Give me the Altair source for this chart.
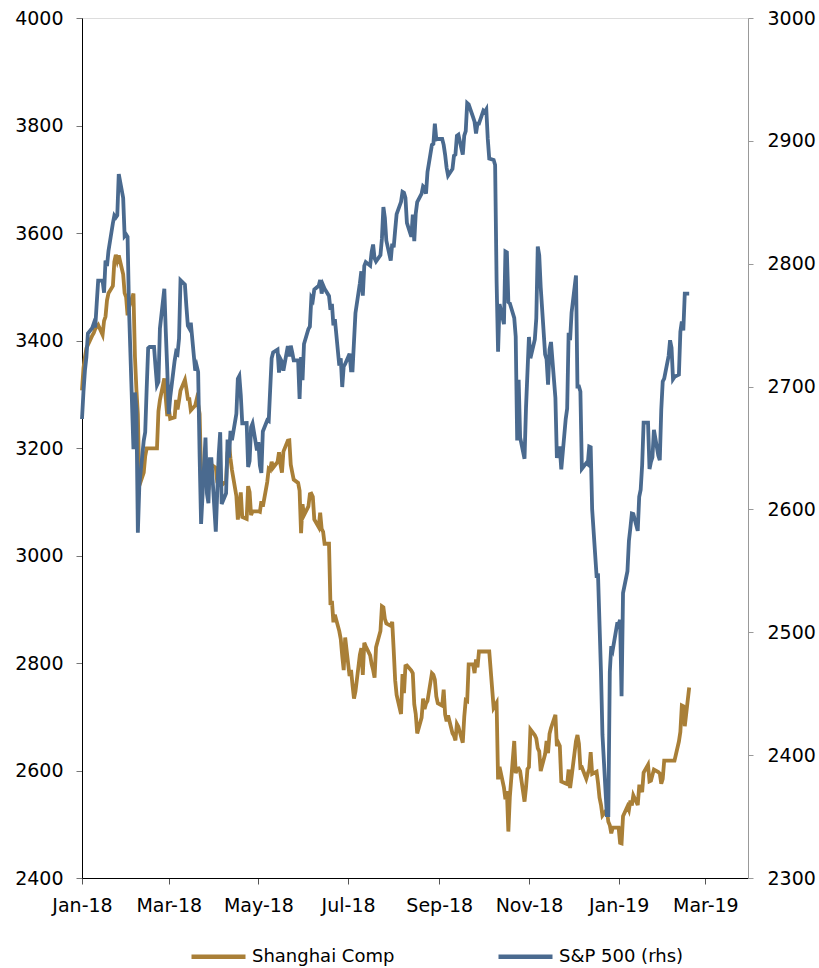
import altair as alt
import pandas as pd

FONT = "DejaVu Sans"
GOLD = "#A97F37"
BLUE = "#4A6A8F"
SH_NAME = "Shanghai Comp"
SP_NAME = "S&P 500 (rhs)"

# first value = last close of 2017 (2017-12-29), then every trading day
sp_values = [
    2673.61,
    2695.81, 2713.06, 2723.99, 2743.15, 2747.71, 2751.29, 2748.23, 2767.56, 2786.24, 2776.42, 2802.56,
    2798.03, 2810.30, 2832.97, 2839.13, 2837.54, 2839.25, 2872.87, 2853.53, 2822.43, 2823.81,
    2821.98, 2762.13, 2648.94, 2695.14, 2681.66, 2581.00, 2619.55, 2656.00, 2662.94, 2698.63,
    2731.20, 2732.22, 2716.26, 2701.33, 2703.96, 2747.30, 2779.60, 2744.28, 2713.83,
    2677.67, 2691.25, 2720.94, 2728.12, 2726.80, 2738.97, 2786.57, 2783.02, 2765.31, 2749.48,
    2747.33, 2752.01, 2712.92, 2716.94, 2711.93, 2643.69, 2588.26, 2658.55, 2612.62, 2605.00, 2640.87,
    2581.88, 2614.45, 2644.69, 2662.84, 2604.47, 2613.16, 2656.87, 2642.19, 2663.99, 2656.30,
    2677.84, 2706.39, 2708.64, 2693.13, 2670.14, 2670.29, 2634.56, 2639.40, 2666.94, 2669.91, 2648.05,
    2654.80, 2635.67, 2629.73, 2663.42, 2672.63, 2671.92, 2697.79, 2723.07, 2727.72, 2730.13, 2711.45,
    2722.46, 2720.13, 2712.97, 2733.01, 2724.44, 2733.29, 2727.76, 2721.33, 2689.86, 2724.01, 2705.27,
    2734.62, 2746.87, 2748.80, 2772.35, 2770.37, 2779.03, 2782.00, 2786.85, 2775.63, 2782.49,
    2779.66, 2773.75, 2762.59, 2767.32, 2749.76, 2754.88, 2717.07, 2723.06, 2699.63, 2716.31, 2718.37,
    2726.71, 2713.22, 2736.61, 2759.82, 2784.17, 2793.84, 2774.02, 2798.29, 2801.31, 2798.43,
    2809.55, 2815.62, 2804.49, 2801.83, 2806.98, 2820.40, 2846.07, 2837.44, 2818.82, 2802.60, 2816.29,
    2813.36, 2827.22, 2840.35, 2850.40, 2858.45, 2857.70, 2853.58, 2833.28, 2821.93, 2839.96, 2818.37,
    2840.69, 2850.13, 2857.05, 2862.96, 2861.82, 2856.98, 2874.69, 2896.74, 2897.52, 2914.04, 2901.13, 2901.52,
    2896.72, 2888.60, 2878.05, 2871.68, 2877.13, 2887.89, 2888.92, 2904.18, 2904.98, 2888.80,
    2904.31, 2907.95, 2930.75, 2929.67, 2919.37, 2915.56, 2905.97, 2914.00, 2913.98,
    2924.59, 2923.43, 2925.51, 2901.61, 2885.57, 2884.43, 2880.34, 2785.68, 2728.37, 2767.13, 2750.79,
    2809.92, 2809.21, 2768.78, 2767.78, 2755.88, 2740.69, 2656.10, 2705.57, 2658.69, 2641.25, 2682.63, 2711.74,
    2740.37, 2723.06, 2738.31, 2755.45, 2813.89, 2806.83, 2781.01, 2726.22, 2722.18, 2701.58,
    2730.20, 2736.27, 2690.73, 2641.89, 2649.93, 2632.56, 2673.45, 2682.17, 2743.79, 2737.80, 2760.17,
    2790.37, 2700.06, 2695.95, 2633.08, 2637.72, 2636.78, 2651.07, 2650.54, 2599.95, 2545.94,
    2546.16, 2506.96, 2467.42, 2416.62, 2351.10, 2467.70, 2488.83, 2485.74, 2506.85,
    2510.03, 2447.89, 2531.94, 2549.69, 2574.41, 2584.96, 2596.64, 2596.26, 2582.61, 2610.30,
    2616.10, 2635.96, 2670.71, 2632.90, 2638.70, 2642.33, 2664.76, 2643.85, 2640.00, 2681.05, 2704.10,
    2706.53, 2724.87, 2737.70, 2731.61, 2706.05, 2707.88, 2709.80, 2744.73, 2753.03, 2745.73, 2775.60,
]

sh_values = [
    3307.17,
    3348.33, 3369.11, 3385.71, 3391.75, 3409.48, 3413.90, 3421.83, 3425.34, 3428.94, 3410.49, 3436.59,
    3444.67, 3474.75, 3487.86, 3501.36, 3546.50, 3559.47, 3548.31, 3558.13, 3523.00, 3488.01, 3480.83,
    3446.98, 3462.08, 3487.50, 3370.65, 3309.26, 3262.05, 3129.85, 3154.13, 3184.96, 3199.16,
    3268.56, 3289.02, 3329.57, 3292.07, 3259.41,
    3273.75, 3254.53, 3256.93, 3289.64, 3271.67, 3288.41, 3307.17, 3326.70, 3310.24, 3291.38, 3291.11,
    3269.88, 3279.25, 3290.64, 3280.95, 3263.48, 3152.76, 3133.72, 3166.65, 3122.29, 3160.53, 3168.90,
    3163.18, 3136.63, 3131.11, 3138.29, 3190.32, 3208.08, 3180.16, 3159.05, 3110.65, 3066.80,
    3091.40, 3117.38, 3071.54, 3068.01, 3128.93, 3117.97, 3075.03, 3082.23,
    3081.18, 3100.86, 3091.03, 3136.64, 3161.50, 3159.15, 3174.41, 3163.26, 3174.03, 3192.12, 3169.57,
    3154.28, 3193.30, 3213.84, 3214.35, 3168.96, 3154.65, 3141.30, 3135.08, 3120.46, 3041.44, 3095.47,
    3075.14, 3091.19, 3114.21, 3115.18, 3109.50, 3067.15, 3052.78, 3079.80, 3049.80, 3044.16,
    3021.90, 2907.82, 2915.73, 2875.81, 2889.76, 2859.34, 2844.51, 2813.18, 2786.90, 2847.42,
    2775.56, 2786.89, 2759.13, 2733.88, 2747.23, 2815.11, 2827.63, 2777.77, 2837.66, 2831.18, 2814.04,
    2798.13, 2787.26, 2772.55, 2829.27, 2859.54, 2905.56, 2903.65, 2882.23, 2873.59, 2869.05, 2876.40,
    2824.53, 2768.02, 2740.44, 2705.16, 2779.37, 2744.07, 2794.38, 2795.31, 2785.87, 2780.96, 2723.26,
    2705.19, 2668.97, 2698.47, 2733.85, 2714.61, 2724.62, 2729.43, 2780.90, 2777.98, 2769.30, 2737.74, 2725.25,
    2720.73, 2750.58, 2704.34, 2691.59, 2702.30, 2669.48, 2664.80, 2656.11, 2686.58, 2681.64,
    2651.79, 2699.95, 2730.85, 2729.24, 2797.49, 2781.14, 2806.81, 2791.77, 2821.35,
    2716.51, 2721.01, 2725.84, 2583.46, 2606.91, 2568.10, 2546.33, 2561.61, 2486.42,
    2550.47, 2654.88, 2594.83, 2603.30, 2603.80, 2598.85, 2542.10, 2568.05, 2602.78,
    2606.24, 2676.48, 2665.43, 2659.36, 2641.34, 2635.63, 2598.87, 2630.52, 2654.88, 2632.24, 2668.17,
    2679.11, 2703.51, 2645.43, 2651.51, 2645.85, 2579.48, 2575.81, 2574.68, 2601.74, 2567.44, 2588.19,
    2654.80, 2665.96, 2649.81, 2605.18, 2605.89, 2584.58, 2594.09, 2602.15, 2634.05, 2593.74,
    2597.97, 2576.65, 2549.56, 2536.27, 2516.25, 2527.01, 2504.82, 2498.29, 2483.09, 2493.90,
    2465.29, 2464.36, 2514.87, 2533.09, 2526.46, 2544.34, 2535.10, 2553.83, 2535.77, 2570.34, 2570.42,
    2559.64, 2596.01, 2610.51, 2579.70, 2581.00, 2591.69, 2601.72, 2596.98, 2594.25, 2575.58, 2584.57,
    2618.23, 2653.90, 2671.89, 2721.07, 2719.70, 2682.39, 2754.36,
]

us_holidays = ["2018-01-01", "2018-01-15", "2018-02-19", "2018-03-30", "2018-05-28", "2018-07-04",
               "2018-09-03", "2018-11-22", "2018-12-05", "2018-12-25", "2019-01-01", "2019-01-21",
               "2019-02-18"]
cn_holidays = ["2018-01-01", "2018-02-15", "2018-02-16", "2018-02-19", "2018-02-20", "2018-02-21",
               "2018-04-05", "2018-04-06", "2018-04-30", "2018-05-01", "2018-06-18", "2018-09-24",
               "2018-10-01", "2018-10-02", "2018-10-03", "2018-10-04", "2018-10-05", "2018-12-31",
               "2019-01-01", "2019-02-04", "2019-02-05", "2019-02-06", "2019-02-07", "2019-02-08"]

left_ticks = [2400, 2600, 2800, 3000, 3200, 3400, 3600, 3800, 4000]
right_ticks = [2300, 2400, 2500, 2600, 2700, 2800, 2900, 3000]
x_tick_months = [(2018, 1), (2018, 3), (2018, 5), (2018, 7), (2018, 9), (2018, 11), (2019, 1), (2019, 3)]

bdays = pd.bdate_range("2018-01-01", "2019-02-18")


def build(values, holidays, name):
    hol = set(pd.to_datetime(holidays))
    days = [pd.Timestamp("2017-12-29")] + [d for d in bdays if d not in hol]
    if len(days) != len(values):
        raise ValueError(f"length mismatch {len(days)} vs {len(values)}")
    s = pd.Series(values, index=pd.DatetimeIndex(days))
    s = s.reindex(s.index.union(bdays)).ffill().reindex(bdays)
    return pd.DataFrame({"date": bdays.strftime("%Y-%m-%d"), "value": s.values, "series": name})


df_sp = build(sp_values, us_holidays, SP_NAME)
df_sh = build(sh_values, cn_holidays, SH_NAME)

x_enc = alt.X(
    "date:T",
    title=None,
    scale=alt.Scale(domain=[alt.DateTime(year=2018, month=1, date=1, utc=True),
                            alt.DateTime(year=2019, month=3, date=30, utc=True)]),
    axis=alt.Axis(values=[alt.DateTime(year=y, month=m, date=1, utc=True) for (y, m) in x_tick_months],
                  labelExpr="utcFormat(datum.value, '%b-%y')", labelOverlap=False, labelFlush=False,
                  domainColor="#000", domainWidth=1,
                  tickColor="#555", tickSize=6, labelPadding=12, labelFontSize=19,
                  labelColor="#000", grid=False, labelFont=FONT),
)

color_scale = alt.Scale(domain=[SH_NAME, SP_NAME], range=[GOLD, BLUE])
legend = alt.Legend(
    title=None, orient="none", legendX=107, legendY=909, direction="horizontal",
    symbolType="stroke", symbolSize=2916, symbolStrokeWidth=4.5, labelFontSize=18,
    labelFont=FONT, labelColor="#000", columnPadding=94, padding=0, labelOffset=4,
)

sh_line = alt.Chart(df_sh).mark_line(strokeWidth=3.8).encode(
    x=x_enc,
    y=alt.Y("value:Q", title=None,
            scale=alt.Scale(domain=[2400, 4000], zero=False, nice=False),
            axis=alt.Axis(orient="left", values=left_ticks, format="d", domainColor="#000",
                          tickColor="#777", tickSize=6, labelPadding=13, labelFontSize=19,
                          labelColor="#000", grid=False, labelFont=FONT)),
    color=alt.Color("series:N", scale=color_scale, legend=legend),
)

sp_line = alt.Chart(df_sp).mark_line(strokeWidth=3.8).encode(
    x=x_enc,
    y=alt.Y("value:Q", title=None,
            scale=alt.Scale(domain=[2300, 3000], zero=False, nice=False),
            axis=alt.Axis(orient="right", values=right_ticks, format="d", domainColor="#999",
                          tickColor="#999", tickSize=5, labelPadding=14, labelFontSize=19,
                          labelColor="#000", grid=False, labelFont=FONT)),
    color=alt.Color("series:N", scale=color_scale, legend=legend),
)

chart = (
    alt.layer(sh_line, sp_line)
    .resolve_scale(y="independent")
    .properties(width=666, height=860,
                autosize=alt.AutoSizeParams(type="none"),
                padding={"left": 82, "top": 18, "right": 71, "bottom": 90})
    .configure_view(stroke=None)
    .configure(font=FONT, background="white")
)

chart.save("out.html", embed_options={"renderer": "svg", "actions": False})
